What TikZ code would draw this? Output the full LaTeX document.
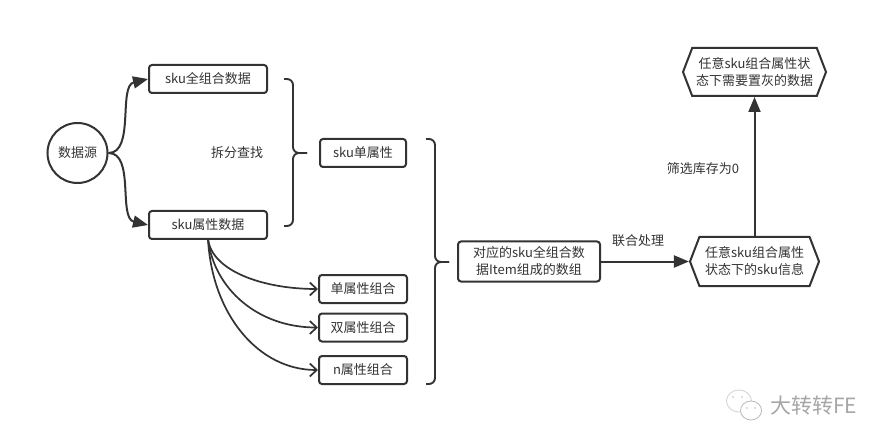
\documentclass[tikz,border=0pt]{standalone}
\usepackage{fontspec}
\setmainfont{Noto Sans CJK SC}
\usepackage{tikz}
\usetikzlibrary{arrows.meta, shapes.symbols}
\definecolor{inkgray}{HTML}{333333}
\tikzset{
    flowbox/.style={draw=inkgray, line width=2pt, rounded corners=3pt, fill=white, inner sep=0pt, align=center, text=inkgray, font=\fontsize{13}{17}\selectfont},
    flowhex/.style={draw=inkgray, line width=2pt, fill=white, shape=signal, signal from=nowhere, signal to=west and east, signal pointer angle=138, inner sep=0pt, align=center, text=inkgray, font=\fontsize{13}{17}\selectfont},
    flowlabel/.style={text=inkgray, inner sep=0pt},
    solidarrow/.style={draw=inkgray, line width=2pt, -{Triangle[length=15pt, width=12pt]}},
    openarrow/.style={draw=inkgray, line width=1.7pt, -{Straight Barb[length=7pt, width=13pt]}},
    bracket/.style={draw=inkgray, line width=1.9pt, rounded corners=6pt},
}
\begin{document}
\begin{tikzpicture}[x=1pt, y=-1pt, font=\fontsize{13}{17}\selectfont]
    \useasboundingbox[fill=white] (0,0) rectangle (888,446);

    % Source and the two data boxes
    \node[draw=inkgray, line width=2pt, circle, minimum size=60pt, inner sep=0pt, text=inkgray] (source) at (77.5,153) {数据源};
    \node[flowbox, minimum width=118pt, minimum height=28pt] (fulldata) at (208,79) {sku全组合数据};
    \node[flowbox, minimum width=118pt, minimum height=28pt] (attrdata) at (208,225) {sku属性数据};
    \node[flowlabel] (splitlabel) at (237,153) {拆分查找};

    % Right hand boxes
    \node[flowbox, minimum width=86pt, minimum height=28pt] (singleattr) at (363,153) {sku单属性};
    \node[flowbox, minimum width=88pt, minimum height=28pt] (singlegroup) at (363,289) {单属性组合};
    \node[flowbox, minimum width=88pt, minimum height=28pt] (doublegroup) at (363,327.5) {双属性组合};
    \node[flowbox, minimum width=88pt, minimum height=28pt] (ngroup) at (363,370) {n属性组合};
    \node[flowbox, minimum width=142pt, minimum height=40pt] (itemarray) at (529,261.5) {对应的sku全组合数\\据Item组成的数组};

    % Hexagons
    \node[flowhex, minimum width=129pt, minimum height=49pt] (stateinfo) at (754.5,261.5) {任意sku组合属性\\状态下的sku信息};
    \node[flowhex, minimum width=143pt, minimum height=48pt] (graydata) at (754.5,72) {任意sku组合属性状\\态下需要置灰的数据};

    % Connectors
    \draw[solidarrow] (source.east) .. controls (135,153) and (118,86) .. (fulldata.west);
    \draw[solidarrow] (source.east) .. controls (135,153) and (118,218) .. (attrdata.west);
    \coordinate (fanstart) at (208,239);
    \draw[openarrow] (fanstart) .. controls +(4,32) and +(-55,0) .. (singlegroup.west);
    \draw[openarrow] (fanstart) .. controls +(6,50) and +(-60,0) .. (doublegroup.west);
    \draw[openarrow] (fanstart) .. controls +(4,75) and +(-60,0) .. (ngroup.west);
    \draw[solidarrow] (itemarray.east) -- (stateinfo.west);
    \node[flowlabel] (joinlabel) at (638,241) {联合处理};
    \draw[solidarrow] (stateinfo.north) -- (graydata.south);
    \node[flowlabel] (filterlabel) at (703,169) {筛选库存为0};

    % Braces
    \foreach \xa/\xb/\xc/\ya/\yb/\yc in {284/293/307/79/153/226, 426/435/449/139/262/384} {
        \draw[bracket] (\xa,\ya) -| (\xb,\yb) -- (\xc,\yb);
        \draw[bracket] (\xa,\yc) -| (\xb,\yb) -- (\xc,\yb);
    }

    % Watermark
    \draw[gray!35, line width=0.8pt] (739,401) ellipse (12.5 and 11);
    \draw[gray!55, line width=0.8pt, fill=white] (751,410.5) ellipse (10.5 and 9.5);
    \foreach \x/\y in {733/397, 742/397, 747/408, 755/408} { \fill[gray!50] (\x,\y) circle (0.9); }
    \node[text=gray!70, inner sep=0pt, font=\fontsize{21}{24}\selectfont] (brandname) at (813.5,406) {大转转FE};
\end{tikzpicture}
\end{document}
